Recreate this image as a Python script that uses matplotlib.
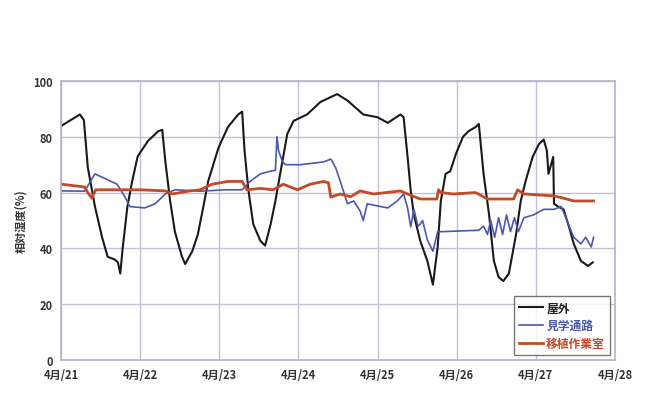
import matplotlib
matplotlib.use('Agg')
import matplotlib.pyplot as plt

plt.rcParams['font.family'] = ['Noto Sans CJK JP', 'DejaVu Sans']

# 日付 (4月の日, 小数は時刻)
day_ticks = [21, 22, 23, 24, 25, 26, 27, 28]
tick_labels = ['4月/%d' % d for d in day_ticks]

# 屋外 (日, 相対湿度%)
outdoor = [
    (21.01, 84), (21.24, 88), (21.29, 86), (21.34, 69), (21.43, 55), (21.52, 44),
    (21.59, 37), (21.68, 36), (21.72, 35), (21.75, 31), (21.78, 40), (21.84, 55),
    (21.90, 64), (21.97, 73), (22.10, 78.5), (22.23, 82), (22.28, 82.5), (22.32, 71),
    (22.38, 57), (22.44, 46), (22.53, 37), (22.57, 34.4), (22.66, 39), (22.73, 45),
    (22.80, 55), (22.86, 64), (22.99, 76), (23.11, 83.5), (23.24, 88), (23.29, 89),
    (23.32, 75), (23.37, 60.6), (23.43, 48.7), (23.52, 42.7), (23.58, 41), (23.65, 48.7),
    (23.71, 57), (23.77, 66.7), (23.86, 81), (23.94, 85.7), (24.11, 88), (24.28, 92.5),
    (24.49, 95.3), (24.62, 93), (24.82, 88), (25.00, 87), (25.13, 85), (25.29, 88),
    (25.33, 87), (25.38, 72.8), (25.42, 60.6), (25.46, 52), (25.54, 42.7), (25.63, 35.5),
    (25.70, 27), (25.76, 40.5), (25.80, 57), (25.86, 66.7), (25.92, 67.7), (25.99, 73.8),
    (26.08, 80), (26.15, 82), (26.24, 83.5), (26.28, 84.6), (26.34, 66.7), (26.41, 52),
    (26.47, 35.5), (26.53, 29.7), (26.59, 28.3), (26.66, 31), (26.75, 45), (26.81, 57),
    (26.87, 64), (26.96, 72.8), (27.04, 77.4), (27.10, 79), (27.14, 75), (27.16, 66.7),
    (27.22, 72.8), (27.23, 56), (27.28, 55), (27.35, 54), (27.42, 47.7), (27.48, 41.6),
    (27.57, 35.5), (27.66, 33.7), (27.72, 35),
]

# 見学通路
corridor = [
    (21.01, 60.6), (21.30, 60.5), (21.43, 66.7), (21.56, 65), (21.71, 63), (21.81, 58.4),
    (21.87, 55), (22.06, 54.5), (22.19, 56), (22.32, 59.5), (22.44, 61), (22.76, 60.5),
    (23.08, 61), (23.29, 61), (23.39, 64), (23.52, 66.7), (23.65, 67.7), (23.71, 68),
    (23.73, 80), (23.75, 75), (23.80, 71), (23.84, 70), (24.03, 70), (24.32, 71),
    (24.41, 72), (24.47, 69), (24.53, 64), (24.62, 56), (24.70, 57), (24.78, 53.4),
    (24.82, 50), (24.87, 56), (24.95, 55.5), (25.13, 54.5), (25.25, 57), (25.33, 59.5),
    (25.38, 54.5), (25.42, 47.7), (25.46, 54), (25.51, 48), (25.54, 48.7), (25.57, 50),
    (25.63, 43), (25.70, 39), (25.76, 46), (25.82, 46), (26.28, 46.5), (26.34, 48),
    (26.39, 45), (26.43, 50), (26.48, 44), (26.53, 51), (26.58, 45), (26.63, 52),
    (26.68, 46), (26.73, 51), (26.78, 46), (26.85, 51), (26.97, 52), (27.10, 54),
    (27.23, 54), (27.32, 55), (27.38, 51), (27.42, 48), (27.48, 44), (27.57, 41.6),
    (27.63, 44), (27.70, 40.5), (27.73, 44),
]

# 移植作業室
workroom = [
    (21.01, 63), (21.30, 62), (21.34, 60), (21.39, 58), (21.44, 61), (22.00, 61),
    (22.32, 60.6), (22.41, 59.5), (22.63, 60.6), (22.76, 61), (22.91, 63), (23.11, 64),
    (23.29, 64), (23.35, 61), (23.52, 61.5), (23.68, 61), (23.81, 63), (23.99, 61),
    (24.15, 63), (24.32, 64), (24.38, 63.5), (24.41, 58.4), (24.53, 59.5), (24.66, 58.5),
    (24.78, 60.6), (24.95, 59.5), (25.29, 60.6), (25.38, 59.5), (25.54, 57.7), (25.75, 57.7),
    (25.77, 61), (25.80, 60), (25.96, 59.5), (26.24, 60), (26.39, 57.7), (26.72, 57.7),
    (26.77, 61), (26.85, 59.5), (27.23, 58.8), (27.35, 58), (27.48, 57), (27.73, 57),
]

fig = plt.figure(figsize=(6.48, 4.14), dpi=100)
ax = fig.add_axes([0.094, 0.128, 0.855, 0.674])

series = [
    (outdoor, '屋外', '#1a1a1a', 1.5),
    (corridor, '見学通路', '#4a58b0', 1.2),
    (workroom, '移植作業室', '#c24a28', 2.0),
]
for data, name, col, lw in series:
    t, v = zip(*data)
    ax.plot(t, v, color=col, lw=lw, label=name)

ax.set_xlim(21, 28)
ax.set_ylim(0, 100)
ax.set_xticks(day_ticks)
ax.set_xticklabels(tick_labels, fontsize=8, fontweight='bold', color='#333333')
ax.set_yticks([0, 20, 40, 60, 80, 100])
ax.set_yticklabels(['0', '20', '40', '60', '80', '100'], fontsize=8,
                   fontweight='bold', color='#333333')
ax.tick_params(length=0, pad=6)
ax.grid(True, color='#c4bdd6', lw=1.0)
ax.set_axisbelow(True)
for s in ax.spines.values():
    s.set_color('#b8b0cc')
    s.set_linewidth(1.2)

ax.set_ylabel('相対湿度(%)', fontsize=8, fontweight='bold', color='#333333', labelpad=4)

leg = ax.legend(loc='lower right', fontsize=8.5, frameon=True, fancybox=False,
                handlelength=2.0, handletextpad=0.3, borderpad=0.45,
                labelspacing=0.4, borderaxespad=0.4)
leg.get_frame().set_edgecolor('#555555')
leg.get_frame().set_linewidth(1.0)
leg.get_texts()[0].set_color('#222222')
leg.get_texts()[1].set_color('#4a58b0')
leg.get_texts()[2].set_color('#c24a28')
for t in leg.get_texts():
    t.set_fontweight('bold')

fig.savefig('out.png', dpi=100, facecolor='white')
